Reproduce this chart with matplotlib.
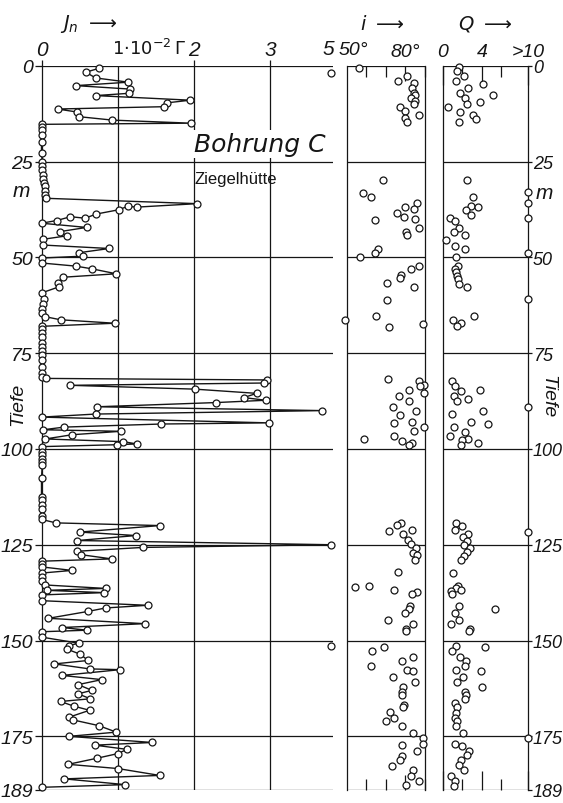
import numpy as np
import matplotlib
matplotlib.use('Agg')
import matplotlib.pyplot as plt
import matplotlib.transforms as mtransforms

# Jn-Kurve (Tiefe in m, Jn in 1e-2 Gamma), Reihenfolge wie gezeichnet
j_tiefe = [0.7, 1.7, 3.2, 4.3, 5.2, 6.1, 7.2, 7.8, 9.0, 9.7, 10.7, 11.3, 12.1, 13.3, 14.2, 15.0,
           15.3, 16.0, 16.8, 18.2, 20.0, 22.8, 25.0, 26.2, 27.3, 28.4, 29.5, 30.5, 31.5, 32.6, 33.7, 34.6,
           36.0, 36.9, 36.7, 37.6, 38.7, 39.8, 39.4, 40.4, 41.1, 42.2, 43.3, 44.4, 45.3, 46.8, 47.7,
           48.8, 49.7, 50.2, 51.5, 52.3, 53.0, 54.3, 55.2, 56.8, 57.7, 59.3, 61.0, 62.2, 63.5, 64.6,
           65.5, 66.3, 67.2, 68.0, 68.8, 69.7, 70.7, 72.4, 73.5, 74.4, 75.6, 76.8, 78.5, 80.3, 81.2,
           81.6, 82.0, 82.8, 83.4, 84.4, 85.5, 86.6, 87.3, 87.9, 89.0, 90.0, 90.9, 91.7, 93.2, 93.5,
           94.3, 95.0, 95.4, 96.3, 97.4, 98.1, 98.7, 98.9, 99.4,
           100.7, 101.6, 102.5, 103.3, 104.2, 107.7, 112.5, 113.4, 114.7, 115.6, 117.4, 118.4,
           119.3, 120.0, 121.7, 122.6, 123.9, 125.0, 125.7, 126.7, 127.6, 128.7, 129.3, 130.0, 130.8,
           131.7, 132.4, 133.4, 134.5, 135.5, 136.4, 136.9, 137.5, 138.1, 139.6, 140.8, 141.5, 142.4,
           144.2, 145.6, 146.6, 147.3, 147.7, 149.1, 150.7, 151.3, 152.2, 153.6, 155.2, 156.1, 157.4,
           157.6, 159.1, 160.2, 161.5, 163.0, 163.9, 165.2, 165.9, 167.1, 168.2, 170.0, 170.7, 172.2,
           173.9, 175.0, 176.6, 177.3, 178.4, 179.5, 180.7, 182.3, 183.4, 185.2, 186.1, 187.6, 188.3]
j_wert = [0.75, 0.58, 0.71, 1.14, 0.45, 1.16, 1.15, 0.71, 1.95, 1.64, 1.60, 0.21, 0.47, 0.49, 0.93, 1.96,
          0.0, 0.01, 0.0, 0.01, 0.0, 0.0, 0.01, 0.0, 0.01, 0.02, 0.02, 0.03, 0.04, 0.05, 0.05, 0.06,
          2.04, 1.25, 1.13, 1.01, 0.72, 0.57, 0.38, 0.20, 0.0, 0.59, 0.24, 0.33, 0.02, 0.02, 0.89,
          0.49, 0.54, 0.0, 0.01, 0.45, 0.66, 0.98, 0.28, 0.21, 0.23, 0.0, 0.03, 0.02, 0.0, 0.01,
          0.05, 0.25, 0.96, 0.01, 0.0, 0.01, 0.0, 0.01, 0.0, 0.01, 0.0, 0.01, 0.0, 0.01, 0.0,
          0.06, 2.96, 2.92, 0.38, 2.01, 2.82, 2.65, 2.94, 2.29, 0.73, 3.68, 0.71, 0.0, 2.98, 1.57,
          0.30, 0.02, 1.04, 0.40, 0.05, 1.07, 1.25, 0.99, 0.0,
          0.0, 0.01, 0.0, 0.0, 0.01, 0.0, 0.0, 0.01, 0.0, 0.0, 0.01, 0.0,
          0.19, 1.55, 0.50, 1.24, 0.47, 5.0, 1.33, 0.47, 0.52, 0.92, 0.0, 0.0, 0.01,
          0.40, 0.0, 0.01, 0.0, 0.05, 0.84, 0.07, 0.82, 0.0, 0.0, 1.39, 0.84, 0.61,
          0.09, 1.35, 0.27, 0.60, 0.01, 0.0, 0.49, 0.36, 0.33, 0.51, 0.61, 0.17, 0.63,
          1.03, 0.27, 0.79, 0.48, 0.66, 0.48, 0.64, 0.25, 0.42, 0.63, 0.36, 0.41, 0.75,
          0.98, 0.36, 1.45, 0.70, 1.12, 1.00, 0.73, 0.35, 1.00, 1.55, 0.30, 1.10, 0.0]

# einzelne Werte ausserhalb der Skala (>= 5)
j_aussen_tiefe = [2.0, 151.5]
j_aussen_wert = [5.0, 5.0]

# Inklination i (Grad)
i_tiefe = [0.6, 2.6, 3.9, 4.6, 5.7, 7.0, 7.6, 8.4, 9.1, 10.0, 10.7, 11.8, 12.8, 13.7, 14.6,
           29.7, 33.2, 34.2, 35.7, 37.0, 37.4, 38.5, 39.6, 40.0, 40.3, 42.3, 43.5, 44.2, 47.8,
           49.0, 49.8, 52.2, 53.0, 54.5, 55.4, 56.8, 57.7, 61.1, 65.2, 66.3, 67.4, 68.1,
           81.7, 82.3, 83.2, 83.5, 84.5, 85.4, 86.3, 87.6, 89.1, 90.0, 91.1, 92.9, 93.3, 94.3,
           95.4, 96.5, 97.4, 98.0, 98.4, 99.0,
           119.2, 119.8, 121.1, 121.5, 122.1, 123.7, 124.8, 125.9, 127.2, 127.8, 128.9, 132.0,
           135.7, 136.1, 136.7, 137.4, 137.9, 141.1, 141.7, 142.7, 144.6, 145.7, 146.9, 147.6,
           151.7, 152.6, 154.2, 155.4, 156.6, 157.6, 157.9, 159.4, 160.8, 162.2, 163.4, 164.1,
           166.9, 167.4, 168.7, 170.2, 171.1, 172.4, 174.1, 175.4, 176.9, 177.3, 178.9, 180.0,
           181.1, 182.7, 183.9, 185.4, 186.6, 187.6]
i_wert = [56.3, 81, 76.4, 84.4, 83.7, 84.4, 84.9, 82.9, 85, 84.4, 77.6, 80.1, 87.4, 80.1, 81.1,
          68.7, 58.7, 62.5, 86.2, 80, 84.8, 75.9, 79.7, 85.2, 64.6, 87.4, 80.5, 81, 66.3,
          64.6, 56.9, 87, 83.1, 78, 77.6, 70.8, 84.5, 70.6, 65.1, 49, 89.3, 71.8,
          71.4, 87, 89.6, 87.9, 81.9, 89.6, 76.8, 81.9, 74, 85.7, 77.4, 83.6, 74.5, 89.6,
          84.5, 74.2, 59.1, 78.5, 83.6, 82.2,
          78, 75.7, 83.4, 71.8, 79.2, 81.7, 82.9, 85.5, 84, 86.4, 85.2, 76.2,
          61.7, 54.6, 74.5, 86.4, 83.4, 82.6, 82.1, 80, 71.1, 84.3, 80.4, 80.4,
          69.4, 63.2, 84.3, 78.3, 62.5, 80.9, 84, 74, 85.2, 79.2, 78.3, 78.3,
          79.7, 78.8, 72.3, 74.5, 70, 78.3, 83.9, 89.1, 89.1, 78.6, 86.4, 78.3,
          77.4, 73.5, 84.3, 82.9, 87.4, 80.4]

# Q (Werte > 10 als 11 eingetragen)
q_tiefe = [0.4, 1.5, 2.6, 3.9, 4.8, 5.8, 7.0, 7.6, 8.3, 9.4, 10.0, 10.9, 12.0, 12.8, 13.9, 14.7,
           29.8, 33.0, 34.3, 35.8, 36.7, 37.0, 37.6, 38.9, 39.7, 39.7, 40.4, 42.3, 43.3, 44.3,
           45.5, 47.0, 47.8, 49.0, 49.8, 52.2, 53.0, 53.9, 54.8, 55.7, 57.0, 57.8, 61.0, 65.2,
           66.3, 67.1, 68.0, 82.2, 83.5, 84.5, 85.0, 86.3, 87.1, 87.6, 89.1, 90.0, 91.0, 93.0,
           93.5, 94.3, 95.7, 96.5, 97.4, 97.8, 98.4, 98.9,
           119.2, 120.2, 121.1, 121.7, 122.2, 123.0, 124.1, 125.0, 125.9, 127.0, 127.9, 128.9,
           132.4, 135.7, 136.3, 136.7, 137.2, 137.9, 140.9, 141.8, 142.8, 144.6, 145.6, 146.9,
           147.6, 151.3, 151.8, 152.6, 154.3, 155.3, 156.7, 157.6, 157.9, 159.5, 160.9, 162.2,
           163.3, 164.1, 165.2, 166.3, 167.4, 168.9, 170.2, 171.1, 172.2, 174.1, 175.4, 176.9,
           177.4, 178.9, 179.8, 181.1, 182.4, 183.9, 185.4, 186.6, 187.9]
q_wert = [1.6, 1.4, 2.2, 1.3, 4.1, 2.6, 1.7, 5.1, 2.3, 3.8, 2.5, 0.5, 1.7, 3.1, 3.4, 1.6,
          2.5, 11, 3.1, 11, 2.9, 3.6, 2.4, 2.9, 0.7, 11, 1.2, 1.6, 1.1, 2.3,
          0.3, 1.2, 2.3, 11, 1.3, 1.5, 1.2, 1.3, 1.4, 1.5, 1.6, 2.5, 11, 3.2,
          1.0, 1.8, 1.4, 0.9, 1.2, 3.8, 1.8, 1.1, 2.6, 1.4, 11, 4.1, 0.9, 2.9,
          4.6, 1.1, 2.3, 0.7, 2.6, 1.9, 3.6, 1.8,
          1.3, 1.9, 1.2, 11, 2.6, 2.1, 2.5, 2.2, 2.8, 2.5, 2.2, 1.8,
          1.0, 1.5, 1.3, 1.8, 0.8, 0.9, 1.6, 5.3, 1.2, 1.6, 0.8, 2.8,
          2.7, 1.3, 4.3, 0.9, 1.7, 2.4, 2.3, 1.3, 3.9, 2.1, 1.4, 4.0,
          2.3, 2.4, 2.3, 1.2, 1.4, 1.3, 1.2, 1.4, 1.3, 2.1, 11, 1.2,
          1.9, 2.7, 2.5, 1.8, 1.6, 2.2, 0.8, 1.2, 1.1]

tiefen_ticks = [0, 25, 50, 75, 100, 125, 150, 175, 189]
J_RAND = 3.8   # Lage von "5" am rechten Rand
Q_RAND = 8.72  # Lage von ">10"

plt.rcParams['font.family'] = ['Liberation Sans', 'DejaVu Sans']
plt.rcParams['mathtext.fontset'] = 'dejavusans'

W, H = 563, 804
fig = plt.figure(figsize=(W / 100, H / 100), dpi=100)
ink = '#151515'
schrift = dict(style='italic', color=ink)

unten = 1 - 791 / H
hoehe = (791 - 66.7) / H
axJ = fig.add_axes([41.5 / W, unten, (333 - 41.5) / W, hoehe])
axI = fig.add_axes([346.5 / W, unten, 78 / W, hoehe])
axQ = fig.add_axes([443 / W, unten, 85 / W, hoehe])

kreis = dict(marker='o', ms=5, mfc='white', mec=ink, mew=0.9, clip_on=False, zorder=5)

# --- Jn ---
jx = np.where(np.array(j_wert) >= 5, J_RAND, j_wert)
axJ.plot(jx, j_tiefe, color=ink, lw=1.0, **kreis)
axJ.plot(np.where(np.array(j_aussen_wert) >= 5, J_RAND, j_aussen_wert), j_aussen_tiefe,
         ls='none', **kreis)
axJ.set_xlim(0, 3.82)
axJ.set_ylim(189, 0)
for t in tiefen_ticks:
    axJ.axhline(t, color=ink, lw=0.9, zorder=1)
for v in [1, 2, 3]:
    axJ.axvline(v, color=ink, lw=0.9, zorder=1)
for s in ['top', 'right', 'bottom']:
    axJ.spines[s].set_visible(False)
axJ.spines['left'].set_color(ink)
axJ.spines['left'].set_linewidth(0.9)
axJ.xaxis.tick_top()
axJ.set_xticks([0, 2, 3])
axJ.set_xticklabels(['0', '2', '3'], fontsize=15, **schrift)
axJ.tick_params(axis='x', length=4, width=0.9, color=ink, pad=1)
axJ.text(3.76, -3.0, '5', fontsize=15, ha='center', va='baseline', **schrift)
axJ.set_yticks(tiefen_ticks)
axJ.set_yticklabels([str(t) for t in tiefen_ticks], fontsize=14, **schrift)
axJ.tick_params(axis='y', length=5, width=0.9, color=ink, pad=1)
axJ.text(0.93, -3.0, r'$\mathit{1{\cdot}10^{-2}\,\Gamma}$', fontsize=13, ha='left',
         va='baseline', color=ink)
axJ.text(2.0, 22.3, 'Bohrung C', fontsize=18, family='DejaVu Sans', ha='left',
         va='baseline', **schrift,
         bbox=dict(facecolor='white', edgecolor='none', pad=1.5), zorder=3)
axJ.text(2.0, 30.6, 'Ziegelhütte', fontsize=12, ha='left', va='baseline', color=ink, zorder=3)

# --- i ---
axI.plot(i_wert, i_tiefe, ls='none', **kreis)
axI.set_xlim(50, 90)
axI.set_ylim(189, 0)
axI.set_yticks([])
for t in tiefen_ticks:
    axI.axhline(t, color=ink, lw=0.9, zorder=1)
axI.set_xticks([80])
axI.set_xticklabels(['80°'], fontsize=14, **schrift)
axI.set_xticks([60, 70, 90], minor=True)
axI.tick_params(axis='x', which='both', direction='in', top=True, bottom=True,
                labeltop=True, labelbottom=False, color=ink, width=0.9, pad=4)
axI.tick_params(axis='x', which='major', length=11)
axI.tick_params(axis='x', which='minor', length=8)
axI.text(53.6, -3.0, '50°', fontsize=14, ha='center', va='baseline', **schrift)

# --- Q ---
axQ.plot(np.minimum(q_wert, Q_RAND), q_tiefe, ls='none', **kreis)
axQ.set_xlim(0, Q_RAND)
axQ.set_ylim(189, 0)
for t in tiefen_ticks:
    axQ.axhline(t, color=ink, lw=0.9, zorder=1)
axQ.set_xticks([0, 4, Q_RAND])
axQ.set_xticklabels(['0', '4', '>10'], fontsize=14, **schrift)
axQ.set_xticks([2, 6], minor=True)
axQ.tick_params(axis='x', which='both', direction='in', top=True, bottom=True,
                labeltop=True, labelbottom=False, color=ink, width=0.9, pad=4)
axQ.tick_params(axis='x', which='major', length=14)
axQ.tick_params(axis='x', which='minor', length=8)
axQ.yaxis.tick_right()
axQ.set_yticks(tiefen_ticks)
axQ.set_yticklabels([str(t) for t in tiefen_ticks], fontsize=13, **schrift)
axQ.tick_params(axis='y', length=3, width=0.9, color=ink, pad=0.5)

for ax in [axI, axQ]:
    for s in ax.spines.values():
        s.set_color(ink)
        s.set_linewidth(0.9)
    ax.spines['top'].set_visible(False)
    ax.spines['bottom'].set_visible(False)

# Achsentitel
fig.text(60 / W, 1 - 24 / H, r'$J_n\ \longrightarrow$', fontsize=14, color=ink, va='center')
fig.text(360 / W, 1 - 24 / H, r'$i\ \longrightarrow$', fontsize=14, color=ink, va='center')
fig.text(458 / W, 1 - 24 / H, r'$Q\ \longrightarrow$', fontsize=14, color=ink, va='center')

links = mtransforms.blended_transform_factory(fig.transFigure, axJ.transData)
rechts = mtransforms.blended_transform_factory(fig.transFigure, axQ.transData)
fig.text(21 / W, 32.5, 'm', transform=links, fontsize=15, ha='center', va='center', **schrift)
fig.text(18 / W, 88, 'Tiefe', transform=links, fontsize=14, ha='center', va='center',
         rotation=90, **schrift)
fig.text(544 / W, 33, 'm', transform=rechts, fontsize=15, ha='center', va='center', **schrift)
fig.text(548 / W, 86, 'Tiefe', transform=rechts, fontsize=14, ha='center', va='center',
         rotation=270, **schrift)

fig.savefig('out.png', dpi=100)
